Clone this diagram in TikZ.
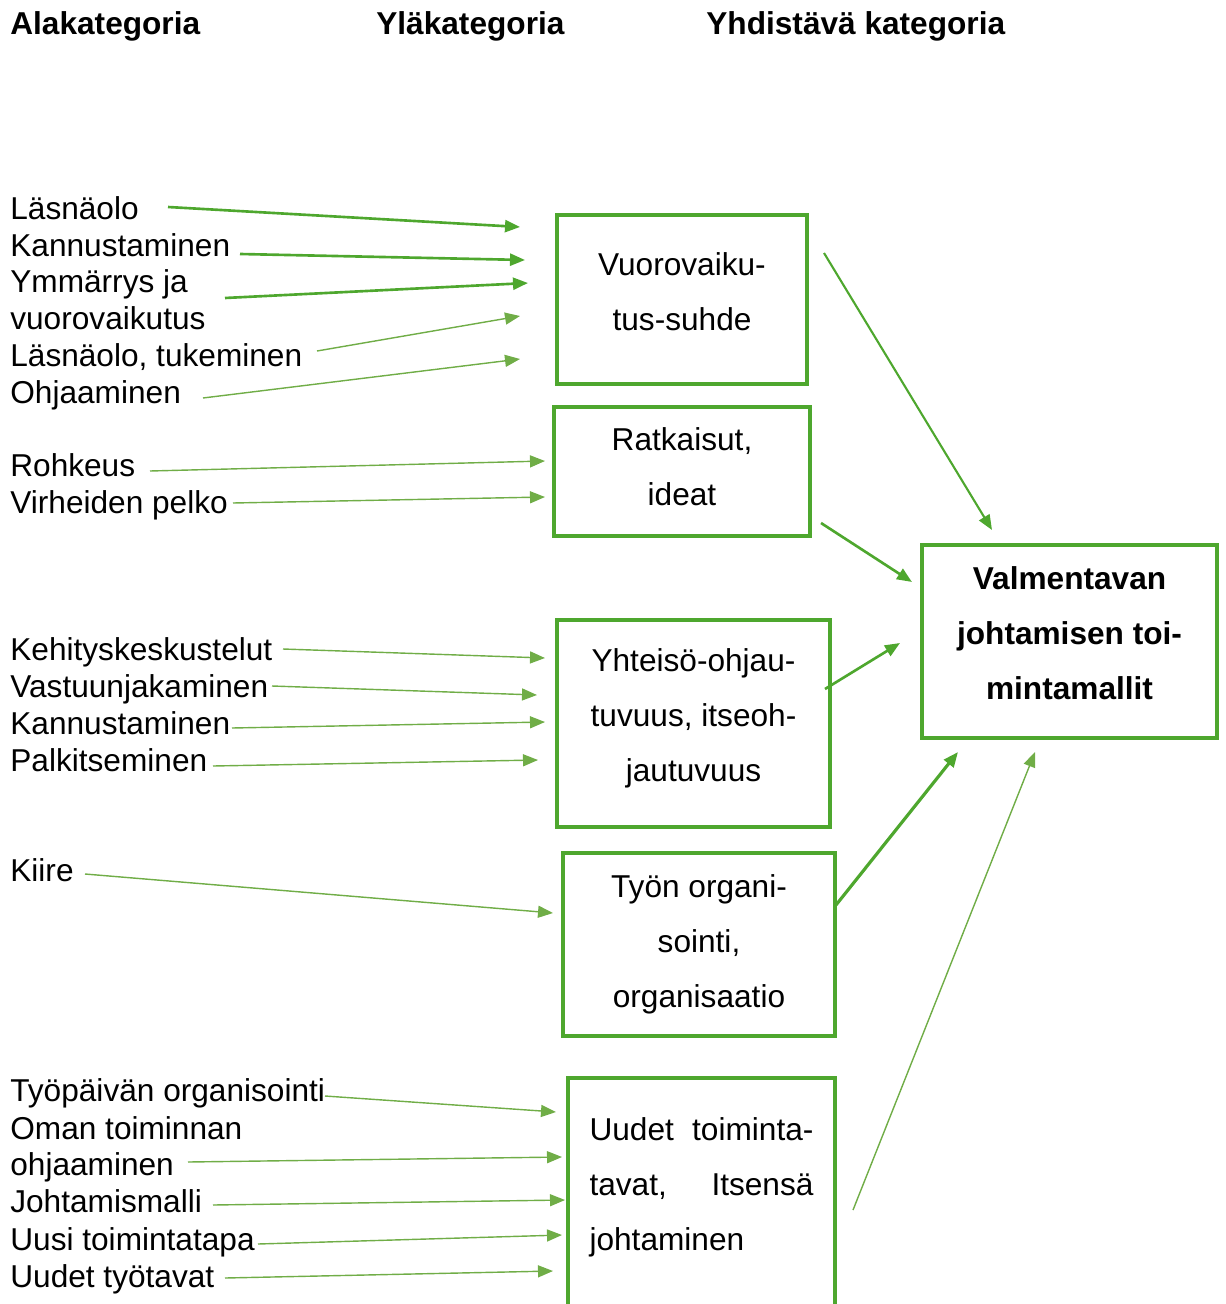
\documentclass[tikz,border=0pt]{standalone}
\usepackage{fontspec}
\setmainfont{Liberation Sans}
\usetikzlibrary{arrows.meta}
\definecolor{boxgreen}{HTML}{4EA72E}
\definecolor{lightgreen}{HTML}{70AD47}

\begin{document}
\begin{tikzpicture}[x=0.02cm, y=-0.02cm, >={Triangle[length=0.3cm, width=0.24cm]},
  lbl/.style={anchor=base west, inner sep=0pt, font=\fontsize{18}{21}\selectfont},
  head/.style={lbl, font=\fontsize{18}{21}\selectfont\bfseries},
  catbox/.style={draw=boxgreen, line width=2pt, inner sep=0pt, align=center, text depth=0.32cm, font=\fontsize{18}{31.3}\selectfont},
  strongarrow/.style={->, draw=boxgreen, fill=boxgreen, line width=1.5pt},
  weakarrow/.style={->, draw=lightgreen, fill=lightgreen, line width=0.8pt}]
  \clip (0,0) rectangle (1225,1304);

  % otsikot
  \node[head] (hAla) at (10,35)  {Alakategoria};
  \node[head] (hYla) at (376,35) {Yläkategoria};
  \node[head] (hYhd) at (706,35) {Yhdistävä kategoria};

  % ylakategoriat
  \node[catbox, minimum width=5cm, minimum height=3.38cm] (vuoro) at (682,299.5) {Vuorovaiku-\\tus-suhde};
  \node[catbox, minimum width=5.12cm, minimum height=2.58cm, text depth=0.2cm] (ratk) at (682,471.5) {Ratkaisut,\\ideat};
  \node[catbox, minimum width=5.46cm, minimum height=4.14cm] (yht) at (693.5,723.5) {Yhteisö-ohjau-\\tuvuus, itseoh-\\jautuvuus};
  \node[catbox, minimum width=5.44cm, minimum height=3.66cm, text depth=0.13cm] (tyon) at (699,944.5) {Työn organi-\\sointi,\\organisaatio};
  \node[catbox, minimum width=5.34cm, minimum height=4.64cm, align=left, text depth=0.38cm] (uud) at (701.5,1194)
    {\hbox to 4.48cm{Uudet\hfill toiminta-}\\\hbox to 4.48cm{tavat,\hfill Itsensä}\\johtaminen};

  % yhdistava kategoria
  \node[catbox, minimum width=5.9cm, minimum height=3.86cm, font=\fontsize{18}{31.3}\selectfont\bfseries] (valm) at (1069.5,641.5)
    {Valmentavan\\johtamisen toi-\\mintamallit};

  % alakategoriat: vuorovaikutus
  \node[lbl] (lasna)   at (10,219) {Läsnäolo};
  \node[lbl] (kannus1) at (10,256) {Kannustaminen};
  \node[lbl] (ymmar)   at (10,292) {Ymmärrys ja};
  \node[lbl] (vuorov)  at (10,329) {vuorovaikutus};
  \node[lbl] (tuki)    at (10,366) {Läsnäolo, tukeminen};
  \node[lbl] (ohjaa)   at (10,403) {Ohjaaminen};

  % alakategoriat: ratkaisut
  \node[lbl] (rohk)  at (10,476) {Rohkeus};
  \node[lbl] (virhe) at (10,513) {Virheiden pelko};

  % alakategoriat: yhteisoohjautuvuus
  \node[lbl] (kehit)   at (10,660) {Kehityskeskustelut};
  \node[lbl] (vastuu)  at (10,697) {Vastuunjakaminen};
  \node[lbl] (kannus2) at (10,734) {Kannustaminen};
  \node[lbl] (palkit)  at (10,771) {Palkitseminen};

  % alakategoriat: tyon organisointi
  \node[lbl] (kiire) at (10,881) {Kiire};

  % alakategoriat: uudet toimintatavat
  \node[lbl] (tyopv)  at (10,1101) {Työpäivän organisointi};
  \node[lbl] (oman)   at (10,1139) {Oman toiminnan};
  \node[lbl] (ohjaa2) at (10,1175) {ohjaaminen};
  \node[lbl] (johtm)  at (10,1212) {Johtamismalli};
  \node[lbl] (uusi)   at (10,1250) {Uusi toimintatapa};
  \node[lbl] (uudet)  at (10,1287) {Uudet työtavat};

  % nuolten paat
  \coordinate (lasna-s) at (168,207);   \coordinate (lasna-t) at (520,227);
  \coordinate (kannus1-s) at (240,254); \coordinate (kannus1-t) at (525,260);
  \coordinate (ymmar-s) at (225,298);   \coordinate (ymmar-t) at (528,283);
  \coordinate (tuki-s) at (317,351);    \coordinate (tuki-t) at (520,316);
  \coordinate (ohjaa-s) at (203,398);   \coordinate (ohjaa-t) at (520,359);
  \coordinate (rohk-s) at (150,471);    \coordinate (rohk-t) at (545,461);
  \coordinate (virhe-s) at (233,503);   \coordinate (virhe-t) at (545,497);
  \coordinate (kehit-s) at (283,649);   \coordinate (kehit-t) at (545,658);
  \coordinate (vastuu-s) at (272,686);  \coordinate (vastuu-t) at (537,695);
  \coordinate (kannus2-s) at (232,728); \coordinate (kannus2-t) at (545,722);
  \coordinate (palkit-s) at (213,766);  \coordinate (palkit-t) at (538,760);
  \coordinate (kiire-s) at (85,874);    \coordinate (kiire-t) at (553,913);
  \coordinate (tyopv-s) at (325,1096);  \coordinate (tyopv-t) at (556,1112);
  \coordinate (ohjaa2-s) at (188,1162); \coordinate (ohjaa2-t) at (562,1157);
  \coordinate (johtm-s) at (213,1205);  \coordinate (johtm-t) at (565,1200);
  \coordinate (uusi-s) at (258,1244);   \coordinate (uusi-t) at (562,1235);
  \coordinate (uudet-s) at (225,1278);  \coordinate (uudet-t) at (553,1271);

  \coordinate (vuoro-s) at (824,253); \coordinate (vuoro-t) at (992,530);
  \coordinate (ratk-s) at (821,523);  \coordinate (ratk-t) at (912,582);
  \coordinate (yht-s) at (825,689);   \coordinate (yht-t) at (900,643);
  \coordinate (tyon-s) at (836,905);  \coordinate (tyon-t) at (958,752);
  \coordinate (uud-s) at (853,1210);  \coordinate (uud-t) at (1035,752);

  % nuolet vasemmalta
  \draw[strongarrow] (lasna-s) -- (lasna-t);
  \draw[strongarrow] (kannus1-s) -- (kannus1-t);
  \draw[strongarrow] (ymmar-s) -- (ymmar-t);
  \draw[weakarrow] (tuki-s) -- (tuki-t);
  \draw[weakarrow] (ohjaa-s) -- (ohjaa-t);
  \draw[weakarrow] (rohk-s) -- (rohk-t);
  \draw[weakarrow] (virhe-s) -- (virhe-t);
  \draw[weakarrow] (kehit-s) -- (kehit-t);
  \draw[weakarrow] (vastuu-s) -- (vastuu-t);
  \draw[weakarrow] (kannus2-s) -- (kannus2-t);
  \draw[weakarrow] (palkit-s) -- (palkit-t);
  \draw[weakarrow] (kiire-s) -- (kiire-t);
  \draw[weakarrow] (tyopv-s) -- (tyopv-t);
  \draw[weakarrow] (ohjaa2-s) -- (ohjaa2-t);
  \draw[weakarrow] (johtm-s) -- (johtm-t);
  \draw[weakarrow] (uusi-s) -- (uusi-t);
  \draw[weakarrow] (uudet-s) -- (uudet-t);

  % nuolet yhdistavaan
  \draw[strongarrow, line width=1.2pt] (vuoro-s) -- (vuoro-t);
  \draw[strongarrow] (ratk-s) -- (ratk-t);
  \draw[strongarrow] (yht-s) -- (yht-t);
  \draw[strongarrow, line width=1.8pt] (tyon-s) -- (tyon-t);
  \draw[weakarrow] (uud-s) -- (uud-t);
\end{tikzpicture}
\end{document}
